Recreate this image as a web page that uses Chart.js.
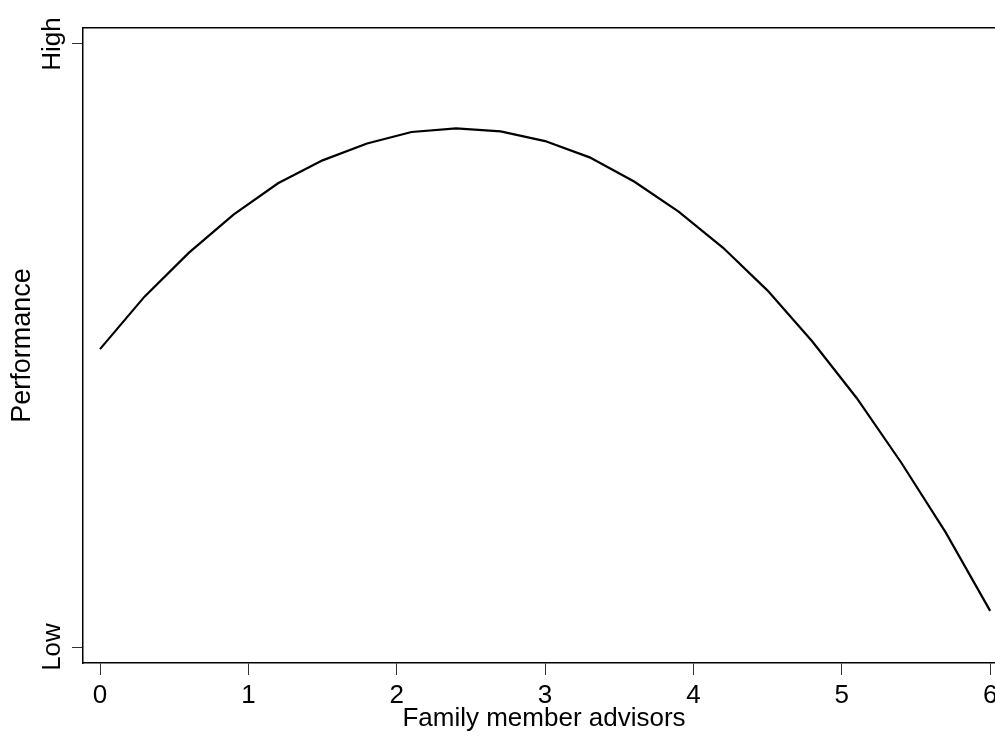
<!DOCTYPE html>
<html>
<head>
<meta charset="utf-8">
<script src="https://cdn.jsdelivr.net/npm/chart.js@4"></script>
<style>
  html, body { margin: 0; padding: 0; background: #fff; overflow: hidden; }
  #wrap { width: 1010px; height: 736px; }
</style>
</head>
<body>
<div id="wrap"><canvas id="chart" width="1010" height="736"></canvas></div>
<script>
// advisors (x) and predicted performance (0 = Low, 1 = High)
const advisors = [0, 0.3, 0.6, 0.9, 1.2, 1.5, 1.8, 2.1, 2.4, 2.7, 3.0,
                  3.3, 3.6, 3.9, 4.2, 4.5, 4.8, 5.1, 5.4, 5.7, 6.0];
const performance = [0.494, 0.581, 0.654, 0.717, 0.769, 0.807, 0.835, 0.854, 0.860, 0.855, 0.839,
                     0.812, 0.772, 0.722, 0.662, 0.591, 0.507, 0.413, 0.306, 0.190, 0.060];
const xTicks = [0, 1, 2, 3, 4, 5, 6];
const yTicks = [0, 1];
const yTickLabels = ['Low', 'High'];

const FONT = '"Liberation Sans", Arial, Helvetica, sans-serif';
const points = advisors.map((x, i) => ({ x: x, y: performance[i] }));

new Chart(document.getElementById('chart'), {
    type: 'line',
    data: {
        datasets: [{
            data: points,
            borderColor: '#000',
            borderWidth: 2.2,
            pointRadius: 0,
            tension: 0,
            fill: false
        }]
    },
    options: {
        responsive: false,
        animation: false,
        layout: { padding: { left: 0, top: 28, right: 5, bottom: 0 } },
        plugins: { legend: { display: false }, tooltip: { enabled: false } },
        scales: {
            x: {
                type: 'linear',
                position: 'bottom',
                min: -0.1146,
                max: 6.1,
                afterBuildTicks: s => { s.ticks = xTicks.map(v => ({ value: v })); },
                afterFit: s => { s.height = 73; },
                grid: { drawOnChartArea: false, drawTicks: true, tickLength: 12, tickColor: '#333', tickWidth: 1 },
                border: { display: true, color: '#000', width: 1.5 },
                ticks: { color: '#000', padding: 5, maxRotation: 0, font: { family: FONT, size: 26 } },
                title: {
                    display: true,
                    text: 'Family member advisors',
                    color: '#000',
                    padding: { top: 0, bottom: 2 },
                    font: { family: FONT, size: 26 }
                }
            },
            x2: {
                type: 'linear',
                position: 'top',
                min: -0.1146,
                max: 6.1,
                afterFit: s => { s.height = 0; },
                grid: { display: false, drawTicks: false },
                border: { display: true, color: '#000', width: 1.5 },
                ticks: { display: false }
            },
            y: {
                type: 'linear',
                position: 'left',
                min: -0.0265,
                max: 1.0265,
                afterBuildTicks: s => { s.ticks = yTicks.map(v => ({ value: v })); },
                afterFit: s => { s.width = 83; },
                grid: { drawOnChartArea: false, drawTicks: true, tickLength: 11, tickColor: '#333', tickWidth: 1 },
                border: { display: true, color: '#000', width: 1.5 },
                ticks: {
                    color: '#000',
                    padding: -7.5,
                    crossAlign: 'center',
                    minRotation: 90,
                    maxRotation: 90,
                    font: { family: FONT, size: 26 },
                    callback: v => yTickLabels[yTicks.indexOf(v)]
                },
                title: {
                    display: true,
                    text: 'Performance',
                    color: '#000',
                    padding: { top: 6, bottom: 0 },
                    font: { family: FONT, size: 27 }
                }
            }
        }
    }
});
</script>
</body>
</html>
